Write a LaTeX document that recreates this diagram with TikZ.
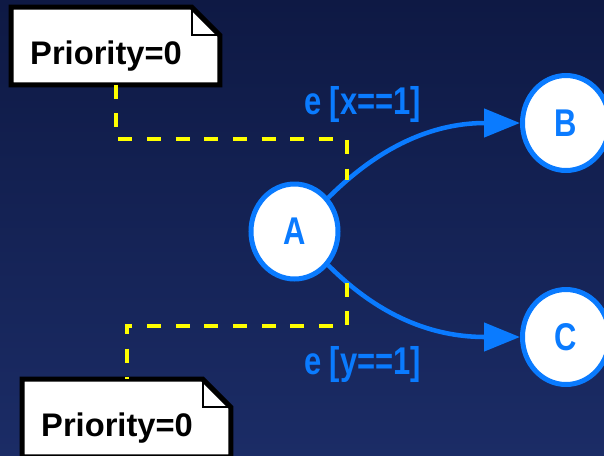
\documentclass[tikz,border=0pt]{standalone}
\usepackage{fontspec}
\usepackage{tikz}
\setmainfont{Liberation Sans}
\newfontfamily\narrowsans[FakeStretch=0.8]{Liberation Sans}
\usetikzlibrary{arrows.meta, calc, backgrounds, shapes.geometric}
\definecolor{chartnavy}{HTML}{0E1944}
\definecolor{chartnavylight}{HTML}{1B2C66}
\definecolor{chartblue}{HTML}{0A7BFF}
\definecolor{chartyellow}{HTML}{FFFF00}

\begin{document}
\begin{tikzpicture}[
  x=0.75pt, y=0.75pt,
  state/.style={ellipse, draw=chartblue, fill=white, line width=3.75pt, minimum width=65.25pt, minimum height=71.25pt, inner sep=0pt, text=chartblue, font=\narrowsans\bfseries\fontsize{29}{30}\selectfont},
  note/.style={rectangle, minimum width=156pt, minimum height=57.75pt, inner sep=0pt},
  notetext/.style={text=black, font=\bfseries\fontsize{24.5}{26}\selectfont, inner sep=0pt},
  guard/.style={text=chartblue, font=\narrowsans\bfseries\fontsize{29}{30}\selectfont, inner sep=0pt},
  trans/.style={-{Triangle[length=27pt,width=21pt]}, line width=3.4pt, chartblue},
  tie/.style={chartyellow, line width=3pt, dash pattern=on 10.5pt off 11pt}
]

% Background
\useasboundingbox (0,0) rectangle (604,-455);
\begin{scope}[on background layer]
\fill[top color=chartnavy, bottom color=chartnavylight] (0,0) rectangle (604,-455);
\end{scope}

% States
\node[state] (A) at (294.5,-231.5) {A};
\node[state] (B) at (566,-123) {B};
\node[state] (C) at (566,-337) {C};

% Notes
\node[note, label={[notetext, xshift=-7.1pt, yshift=-7.5pt]center:Priority=0}] (n1) at (115.5,-46) {};
\node[note, label={[notetext, xshift=-7.1pt, yshift=-7.5pt]center:Priority=0}] (n2) at (126.5,-418) {};

\begin{scope}[on background layer]
\foreach \n in {n1,n2} {
  \filldraw[fill=white, draw=black, line width=3.75pt] (\n.north west) -- ($(\n.north east)+(-28,0)$) -- ($(\n.north east)+(0,-28)$) -- (\n.south east) -- (\n.south west) -- cycle;
  \draw[line width=1.5pt] ($(\n.north east)+(-28,0)$) |- ($(\n.north east)+(0,-28)$);
}
\end{scope}

% Transitions
\draw[trans] (A) to[out=45,in=180] coordinate[pos=0.11] (e1) (B);
\draw[trans] (A) to[out=-45,in=180] coordinate[pos=0.11] (e2) (C);

\node[guard] (g1) at (362.5,-104.5) {e [x==1]};
\node[guard] (g2) at (362.5,-364.5) {e [y==1]};

% Note ties
\draw[tie] (n1.south) -- ++(0,-54.5) -| (e1);
\draw[tie] (e2) |- ($(n2.north)+(0,53.5)$) -- (n2.north);

\end{tikzpicture}
\end{document}
